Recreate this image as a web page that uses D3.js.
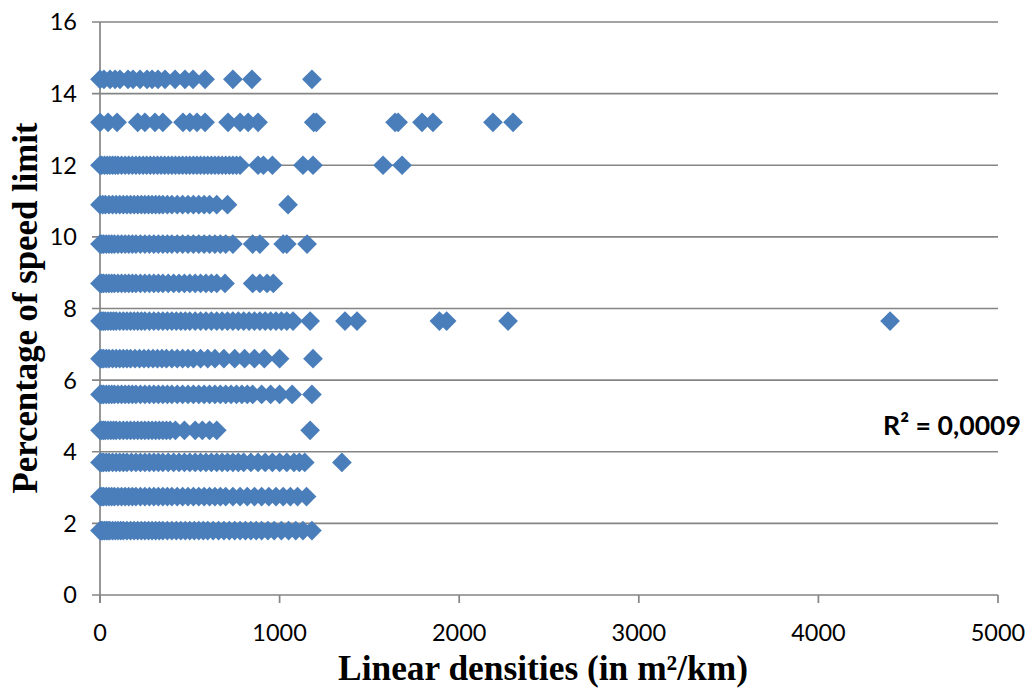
<!DOCTYPE html>
<html>
<head>
<meta charset="utf-8">
<script src="https://cdnjs.cloudflare.com/ajax/libs/d3/7.8.5/d3.min.js"></script>
<style>
  html, body { margin: 0; padding: 0; background: #fff; }
  svg { display: block; }
</style>
</head>
<body>
<svg id="chart" width="1029" height="688"></svg>
<script>
// ---- Data ----
const xTicks = [0, 1000, 2000, 3000, 4000, 5000];
const yTicks = [0, 2, 4, 6, 8, 10, 12, 14, 16];

const row18 = [0,8,15,25,35,45,55,70,85,100,115,130,150,170,190,210,230,250,270,290,310,330,350,375,400,425,450,475,500,525,550,575,600,630,660,690,720,750,780,810,840,870,900,935,970,1010,1050,1090,1130,1180];
const row27 = [0,10,20,35,50,65,80,100,120,140,160,180,200,225,250,275,300,325,350,375,400,430,460,490,520,550,580,610,640,670,700,740,780,820,860,900,940,980,1020,1060,1100,1150];
const row37 = [0,10,20,35,50,70,90,110,130,150,175,200,225,250,275,300,325,350,380,410,440,470,500,530,560,590,620,650,680,710,740,770,800,840,880,920,960,1000,1040,1080,1110,1140,1347];
const row46 = [0,10,20,30,45,60,75,90,110,130,150,170,190,210,230,250,270,290,310,330,350,370,390,420,470,530,570,610,650,1170];
const row56 = [0,10,20,35,50,65,80,100,120,140,160,180,200,225,250,275,300,325,350,375,400,430,460,490,520,550,580,610,640,670,700,730,760,790,820,850,900,950,1000,1070,1180];
const row66 = [0,10,20,35,50,70,90,110,130,150,170,195,220,245,270,295,320,345,370,400,430,460,490,520,560,600,640,690,750,805,860,915,1000,1186];
const row765 = [0,10,20,30,45,60,75,90,110,130,150,170,190,210,230,250,275,300,325,350,375,400,425,450,475,500,530,560,590,620,650,680,710,740,770,800,830,860,890,920,950,980,1010,1040,1075,1170,1364,1431,1890,1930,2272,4399];
const row87 = [0,10,20,35,50,65,80,100,120,140,160,180,200,225,250,275,300,325,350,380,410,440,470,500,530,560,590,620,650,696,850,890,930,965];
const row98 = [0,10,20,35,50,65,80,100,120,140,160,180,200,225,250,275,300,325,350,375,400,430,460,490,520,550,580,610,640,670,700,740,850,890,1020,1040,1153];
const row109 = [0,15,30,50,70,90,110,130,150,170,190,210,230,250,270,290,310,330,350,375,400,430,460,490,520,550,580,610,650,710,1047];
const row120 = [0,10,25,40,55,70,85,100,120,140,160,180,200,220,240,260,280,300,320,340,360,380,400,420,440,460,480,500,520,540,560,580,600,620,640,660,680,700,720,740,760,780,880,910,960,1130,1186,1576,1682];
const row132 = [0,45,95,210,250,306,350,462,500,540,585,713,780,825,880,1190,1205,1643,1660,1793,1854,2188,2300];
const row144 = [0,22,56,84,111,156,184,223,262,290,323,362,418,473,518,585,740,846,1180];

const rowLevels = [1.8, 2.75, 3.7, 4.6, 5.6, 6.6, 7.65, 8.7, 9.8, 10.9, 12.0, 13.2, 14.4];
const rowValues = [row18, row27, row37, row46, row56, row66, row765, row87, row98, row109, row120, row132, row144];

const xTitle = "Linear densities (in m\u00B2/km)";
const yTitle = "Percentage of speed limit";
const r2Label = "R\u00B2 = 0,0009";

// ---- Build points ----
const points = [];
rowLevels.forEach((lvl, i) => rowValues[i].forEach(v => points.push({x: v, y: lvl})));

// ---- Chart ----
const svg = d3.select("#chart");
const x = d3.scaleLinear().domain([0, 5000]).range([100, 998]);
const y = d3.scaleLinear().domain([0, 16]).range([595, 22]);
const gridColor = "#858585";
const labelFont = "Lato, 'Open Sans', sans-serif";

function fitText(sel, target) {
  const w = sel.node().getComputedTextLength();
  const fs = parseFloat(sel.attr("font-size"));
  sel.attr("font-size", fs * target / w);
}

// gridlines (horizontal)
svg.append("g").selectAll("line").data(yTicks).join("line")
  .attr("x1", x(0) - 8).attr("x2", x(5000))
  .attr("y1", d => y(d)).attr("y2", d => y(d))
  .attr("stroke", gridColor).attr("stroke-width", 1.7);

// y axis line
svg.append("line")
  .attr("x1", x(0)).attr("x2", x(0))
  .attr("y1", y(16)).attr("y2", y(0) + 8)
  .attr("stroke", gridColor).attr("stroke-width", 1.7);

// x ticks
svg.append("g").selectAll("line").data(xTicks).join("line")
  .attr("x1", d => x(d)).attr("x2", d => x(d))
  .attr("y1", y(0)).attr("y2", y(0) + 8)
  .attr("stroke", gridColor).attr("stroke-width", 1.7);

// y tick labels
svg.append("g").selectAll("text").data(yTicks).join("text")
  .attr("x", 77).attr("y", d => y(d))
  .attr("dy", "0.36em")
  .attr("text-anchor", "end")
  .attr("font-family", labelFont).attr("font-size", 23.5)
  .attr("fill", "#000")
  .text(d => d);

// x tick labels
svg.append("g").selectAll("text").data(xTicks).join("text")
  .attr("x", d => x(d)).attr("y", 641)
  .attr("text-anchor", "middle")
  .attr("font-family", labelFont).attr("font-size", 23.5)
  .attr("fill", "#000")
  .text(d => d);

// points (diamonds)
const sym = d3.symbol().type(d3.symbolSquare).size(195);
svg.append("g").selectAll("path").data(points).join("path")
  .attr("d", sym)
  .attr("transform", d => `translate(${x(d.x)},${y(d.y)}) rotate(45)`)
  .attr("fill", "#4a7ebb");

// R² label
const r2 = svg.append("text")
  .attr("x", 1021).attr("y", 435)
  .attr("text-anchor", "end")
  .attr("font-family", labelFont).attr("font-weight", "bold").attr("font-size", 25)
  .attr("fill", "#000")
  .text(r2Label);
fitText(r2, 138);

// axis titles
const xt = svg.append("text")
  .attr("x", 543).attr("y", 680)
  .attr("text-anchor", "middle")
  .attr("font-family", "'Liberation Serif', 'DejaVu Serif', serif")
  .attr("font-weight", "bold").attr("font-size", 28)
  .attr("fill", "#000")
  .text(xTitle);
fitText(xt, 410);

const yt = svg.append("text")
  .attr("transform", "translate(37,308) rotate(-90)")
  .attr("text-anchor", "middle")
  .attr("font-family", "'Liberation Serif', 'DejaVu Serif', serif")
  .attr("font-weight", "bold").attr("font-size", 28)
  .attr("fill", "#000")
  .text(yTitle);
fitText(yt, 371);
</script>
</body>
</html>
